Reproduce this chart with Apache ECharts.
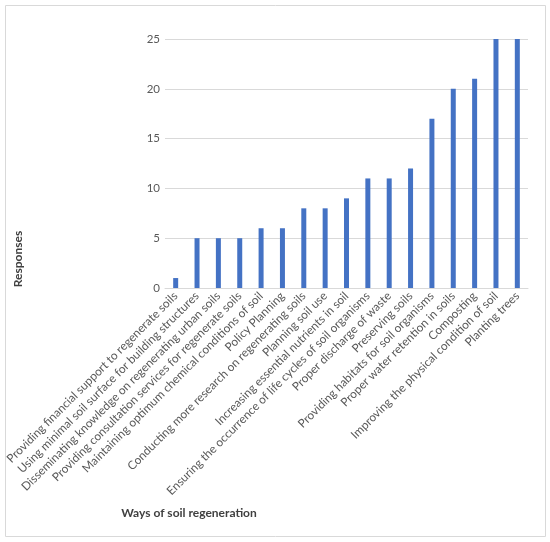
<!DOCTYPE html>
<html>
<head>
<meta charset="utf-8">
<script src="https://cdn.jsdelivr.net/npm/echarts@6/dist/echarts.min.js"></script>
<style>
  html, body { margin: 0; padding: 0; background: #fff; }
  #container { width: 550px; height: 542px; }
</style>
</head>
<body>
<div id="container"></div>
<script>
var categories = [
  'Providing financial support to regenerate soils',
  'Using minimal soil surface for building structures',
  'Disseminating knowledge on regenerating urban soils',
  'Providing consultation services for regenerate soils',
  'Maintaining optimum chemical conditions of soil',
  'Policy Planning',
  'Conducting more research on regenerating soils',
  'Planning soil use',
  'Increasing essential nutrients in soil',
  'Ensuring the occurrence of life cycles of soil organisms',
  'Proper discharge of waste',
  'Preserving soils',
  'Providing habitats for soil organisms',
  'Proper water retention in soils',
  'Composting',
  'Improving the physical condition of soil',
  'Planting trees'
];
var responses = [1, 5, 5, 5, 6, 6, 8, 8, 9, 11, 11, 12, 17, 20, 21, 25, 25];

var myChart = echarts.init(document.getElementById('container'));

var options = {
  animation: false,
  textStyle: { fontFamily: 'Lato' },
  graphic: [
    {
      type: 'rect',
      shape: { x: 5.5, y: 5.5, width: 540, height: 531 },
      style: { fill: 'none', stroke: '#d9d9d9', lineWidth: 1 }
    },
    {
      type: 'text',
      x: 18, y: 259, rotation: Math.PI / 2,
      style: {
        text: 'Responses', fill: '#404040', font: 'bold 12px Lato',
        align: 'center', verticalAlign: 'middle'
      }
    },
    {
      type: 'text',
      x: 189, y: 513,
      style: {
        text: 'Ways of soil regeneration', fill: '#404040', font: 'bold 12px Lato',
        align: 'center', verticalAlign: 'middle'
      }
    }
  ],
  grid: { left: 165, right: 22, top: 39, bottom: 254, containLabel: false },
  xAxis: {
    type: 'category',
    data: categories,
    axisLine: { lineStyle: { color: '#d9d9d9' } },
    axisTick: { show: false },
    axisLabel: {
      rotate: 45, interval: 0, margin: 6,
      color: '#595959', fontSize: 11.8, fontFamily: 'Lato'
    }
  },
  yAxis: {
    type: 'value',
    min: 0, max: 25, interval: 5,
    axisLine: { show: false },
    axisTick: { show: false },
    splitLine: { lineStyle: { color: '#d9d9d9' } },
    axisLabel: { color: '#595959', fontSize: 11.5, margin: 5, fontFamily: 'Lato' }
  },
  series: [{
    type: 'bar',
    data: responses,
    barWidth: 5,
    itemStyle: { color: '#4472C4' }
  }]
};

myChart.setOption(options);
</script>
</body>
</html>
